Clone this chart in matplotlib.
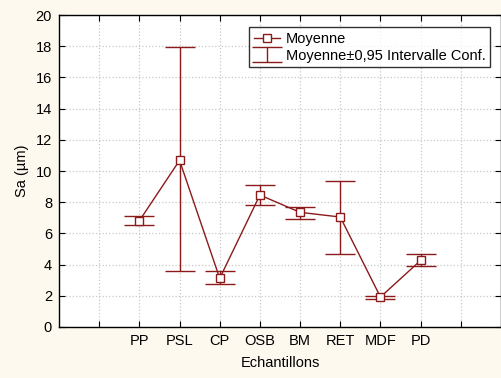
import matplotlib.pyplot as plt
import numpy as np

plt.rcParams['font.family'] = ['Liberation Sans', 'DejaVu Sans']

categories = ['PP', 'PSL', 'CP', 'OSB', 'BM', 'RET', 'MDF', 'PD']
moyenne = [6.81, 10.68, 3.12, 8.46, 7.35, 7.05, 1.92, 4.27]
ci_low = [6.52, 3.57, 2.78, 7.82, 6.94, 4.70, 1.82, 3.89]
ci_high = [7.13, 17.92, 3.57, 9.12, 7.71, 9.38, 2.01, 4.70]

rouge = '#8b1a1a'
fond = '#fdf9ee'

x = np.arange(2, 2 + len(categories))
moy = np.array(moyenne)
err = [moy - np.array(ci_low), np.array(ci_high) - moy]

fig = plt.figure(figsize=(5.02, 3.78), dpi=100, facecolor=fond)
ax = fig.add_axes([59 / 502, 1 - 327 / 378, 442 / 502, 312 / 378])
ax.set_facecolor('white')

ax.errorbar(x, moy, yerr=err, fmt='none', ecolor=rouge, elinewidth=1,
            capsize=11, capthick=1, label='Moyenne±0,95 Intervalle Conf.', zorder=2)
ax.plot(x, moy, color=rouge, lw=1, marker='s', ms=6, mfc='white', mec=rouge,
        mew=1, label='Moyenne', zorder=3)

ax.set_xlim(0, 11)
ax.set_ylim(0, 20)
ax.set_xticks(np.arange(1, 11))
ax.set_xticklabels([''] + categories + [''])
ax.set_yticks(np.arange(0, 21, 2))
ax.grid(True, color='#c8c8c8', ls=':', lw=0.9)
ax.set_axisbelow(True)
ax.tick_params(direction='in', length=4, top=True, right=True, labelsize=10.5,
               colors='black', pad=5)
for s in ax.spines.values():
    s.set_linewidth(1)

ax.set_xlabel('Echantillons', fontsize=10.5, labelpad=6)
ax.set_ylabel('Sa (µm)', fontsize=10.5, labelpad=5)

leg = ax.legend(loc='upper right', bbox_to_anchor=(0.975, 0.96),
                fontsize=10.5, frameon=True, fancybox=False, edgecolor='black',
                borderpad=0.3, labelspacing=0.2, handlelength=1.8,
                handletextpad=0.4, borderaxespad=0)
leg.get_frame().set_linewidth(1)

fig.savefig('out.png', dpi=100, facecolor=fond)
